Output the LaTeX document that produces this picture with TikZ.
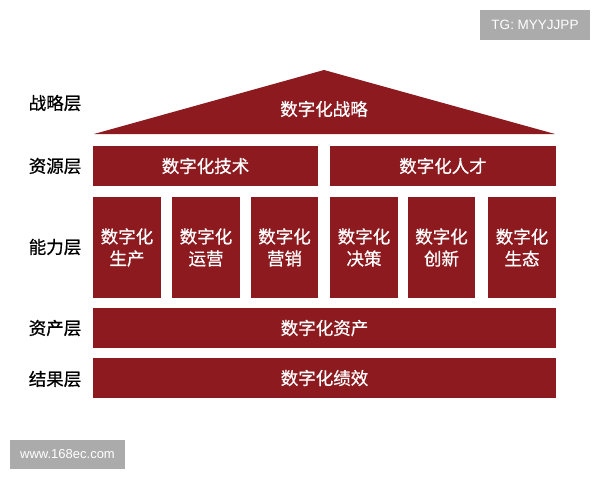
\documentclass[tikz,border=0pt]{standalone}
\usepackage{fontspec}
\setmainfont{Noto Sans CJK SC}
\newfontfamily\cjkmed[FakeBold=0.7]{Noto Sans CJK SC}
\newfontfamily\wmfont{Liberation Sans}
\definecolor{housered}{HTML}{8C1A1F}
\definecolor{wmgray}{HTML}{ABABAB}

\begin{document}
\begin{tikzpicture}[x=1pt,y=-1pt]
\tikzstyle{block}=[fill=housered,text=white,inner sep=0pt,font=\cjkmed\fontsize{17.5}{22}\selectfont,align=center]
\tikzstyle{layer}=[text=black,inner sep=0pt,font=\cjkmed\fontsize{17.5}{22}\selectfont]
\tikzstyle{wmark}=[fill=wmgray,text=white,inner sep=0pt]
\useasboundingbox[fill=white] (0,0) rectangle (600,480);
% roof
\fill[housered] (94,134) -- (324,70) -- (555,134) -- cycle;
\node[block,fill=none] (strategy) at (324,109) {数字化战略};
% resources
\node[block,minimum width=225,minimum height=40] (tech) at (205.5,166) {数字化技术};
\node[block,minimum width=226,minimum height=40] (talent) at (443,166) {数字化人才};
% abilities
\node[block,minimum width=68,minimum height=101] (prod) at (127,247.5) {数字化\\生产};
\node[block,minimum width=68,minimum height=101] (oper) at (206,247.5) {数字化\\运营};
\node[block,minimum width=67,minimum height=101] (mkt) at (284.5,247.5) {数字化\\营销};
\node[block,minimum width=68,minimum height=101] (dec) at (364,247.5) {数字化\\决策};
\node[block,minimum width=67,minimum height=101] (inno) at (441.5,247.5) {数字化\\创新};
\node[block,minimum width=68,minimum height=101] (eco) at (522,247.5) {数字化\\生态};
% assets and results
\node[block,minimum width=463,minimum height=40] (asset) at (324.5,328) {数字化资产};
\node[block,minimum width=463,minimum height=40] (result) at (324.5,378) {数字化绩效};
% layer names
\node[layer] (l1) at (55,103) {战略层};
\node[layer] (l2) at (55,166) {资源层};
\node[layer] (l3) at (55,247) {能力层};
\node[layer] (l4) at (55,328) {资产层};
\node[layer] (l5) at (55,379) {结果层};
% marks
\node[wmark,minimum width=110,minimum height=30,font=\wmfont\fontsize{13.5}{15}\selectfont] (tg) at (535,25) {TG: MYYJJPP};
\node[wmark,minimum width=115,minimum height=29,font=\wmfont\fontsize{13}{15}\selectfont] (site) at (67.5,454.5) {www.168ec.com};
\end{tikzpicture}
\end{document}
